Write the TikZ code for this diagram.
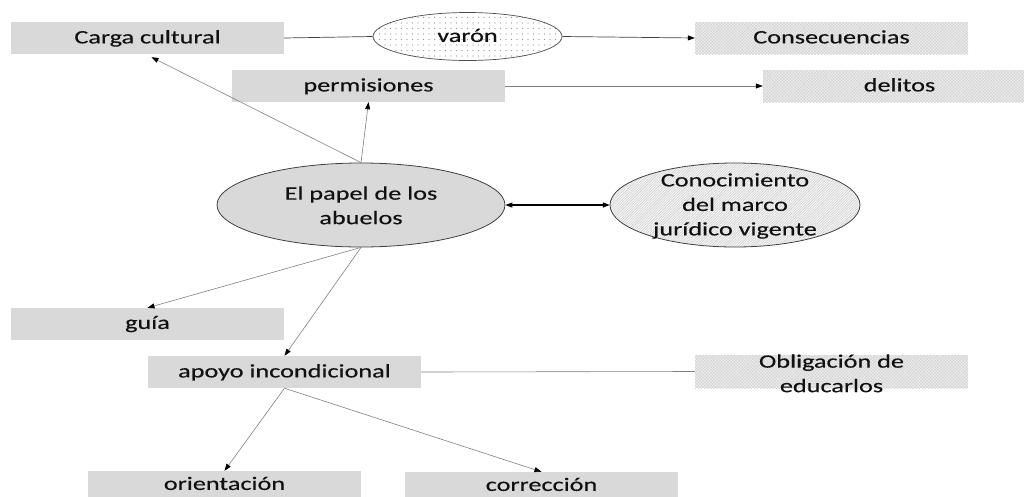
\documentclass[tikz,border=0pt]{standalone}
\usepackage{fontspec}
\setmainfont{Carlito}
\newfontfamily\heavyf{Carlito}[FakeBold=0.3]
\usetikzlibrary{arrows.meta,shapes.geometric,patterns.meta,calc}
\definecolor{boxgray}{HTML}{D9D9D9}
\definecolor{txt}{HTML}{111111}
\newcommand{\wtxt}[1]{\scalebox{1.38}[1]{\begin{tabular}{@{}c@{}}#1\end{tabular}}}
\tikzset{
  plainbox/.style={rectangle, fill=boxgray, minimum width=273pt, minimum height=32pt, inner sep=0pt},
  hatchbox/.style={rectangle, preaction={fill=gray!14}, pattern={Hatch[angle=45,distance=2.2pt,line width=0.4pt]}, pattern color=gray!35, minimum width=273pt, minimum height=32pt, inner sep=0pt},
  lbl/.style={text=txt, font=\heavyf\fontsize{19}{24.5}\selectfont, inner sep=0pt, align=center},
  conn/.style={draw=black!50, line width=0.6pt},
  tip/.style={-{Triangle[length=7pt,width=5pt,color=black,fill=black]}},
  arr/.style={conn, tip},
  darkconn/.style={draw=black!75, line width=0.7pt},
}
\begin{document}
\begin{tikzpicture}[x=1pt,y=-1pt]
\useasboundingbox (0,0) rectangle (1024,496);
% boxes
\node[plainbox] (carga) at (147.5,38) {};
\node[hatchbox] (cons) at (831.5,38) {};
\node[plainbox] (perm) at (368.5,86) {};
\node[hatchbox] (delitos) at (899.5,86) {};
\node[plainbox] (guia) at (147.5,324) {};
\node[plainbox] (apoyo) at (284.5,372) {};
\node[hatchbox, minimum height=33pt] (oblig) at (831.5,371.5) {};
\node[plainbox] (orient) at (224.5,487) {};
\node[plainbox] (correc) at (541.5,488) {};
% ellipses
\node[ellipse, draw=black!70, line width=0.7pt, preaction={fill=white}, pattern={Dots[distance=5.5pt,radius=0.55pt]}, pattern color=gray!85, minimum width=189pt, minimum height=48pt, inner sep=0pt] (varon) at (467.5,36.5) {};
\node[ellipse, draw=black!75, line width=0.8pt, fill=boxgray, minimum width=288pt, minimum height=84pt, inner sep=0pt] (papel) at (361,205) {};
\node[ellipse, draw=black!75, line width=0.8pt, preaction={fill=gray!8}, pattern={Lines[angle=45,distance=1.8pt,line width=0.4pt]}, pattern color=gray!45, minimum width=250pt, minimum height=84pt, inner sep=0pt] (conoc) at (735,205) {};
% labels
\node[lbl] (tcarga) at (147.5,38.5) {\wtxt{Carga cultural}};
\node[lbl] (tcons) at (831.5,38.5) {\wtxt{Consecuencias}};
\node[lbl] (tperm) at (368.5,86.5) {\wtxt{permisiones}};
\node[lbl] (tdel) at (899.5,86.5) {\wtxt{delitos}};
\node[lbl] (tguia) at (147.5,324) {\wtxt{guía}};
\node[lbl] (tapoyo) at (284.5,372.5) {\wtxt{apoyo incondicional}};
\node[lbl] (tobl) at (831.5,375) {\wtxt{Obligación de\\educarlos}};
\node[lbl] (tori) at (224.5,485) {\wtxt{orientación}};
\node[lbl] (tcor) at (541.5,486) {\wtxt{corrección}};
\node[lbl] (tvar) at (467.5,37) {\wtxt{varón}};
\node[lbl] (tpap) at (361,207) {\wtxt{El papel de los\\abuelos}};
\node[lbl] (tcon) at (735,206) {\wtxt{Conocimiento\\del marco\\jurídico vigente}};
% connectors
\draw[darkconn] (carga.east) -- (varon.west);
\draw[darkconn, tip] (varon.east) -- (cons.west);
\draw[arr] (perm.east) -- (delitos.west);
\draw[draw=black, line width=1.1pt, {Triangle[length=7pt,width=5pt]}-{Triangle[length=7pt,width=5pt]}] (papel.east) -- (conoc.west);
\draw[arr] (papel.north) -- ($(carga.south)+(4,3)$);
\draw[arr] (papel.north) -- (perm.south);
\draw[arr] (papel.south) -- (guia.north);
\draw[arr] (papel.south) -- (apoyo.north);
\draw[conn] (apoyo.east) -- (oblig.west);
\draw[arr] (apoyo.south) -- (orient.north);
\draw[arr] (apoyo.south) -- (correc.north);
\end{tikzpicture}
\end{document}
